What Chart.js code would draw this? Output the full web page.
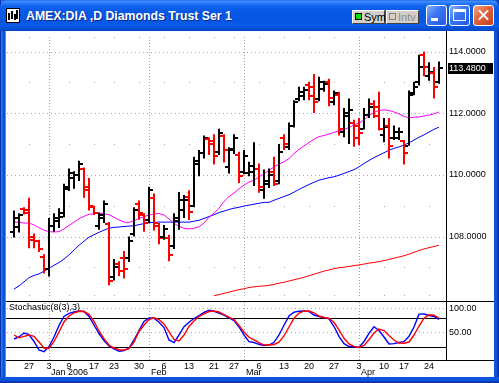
<!DOCTYPE html>
<html>
<head>
<meta charset="utf-8">
<script src="https://cdn.jsdelivr.net/npm/chart.js@4.4.1/dist/chart.umd.min.js"></script>
<style>
html,body{margin:0;padding:0;overflow:hidden;}
body{width:499px;height:383px;position:relative;background:#0553E2;font-family:"Liberation Sans",Arial,sans-serif;}
#edgeL{position:absolute;left:0;top:0;width:5px;height:383px;background:linear-gradient(to right,#0831a6 0,#0831a6 1px,#3a86f7 1px,#1e6cf0 2px,#0b57e2 3px,#0a4fd6 5px);}
#edgeR{position:absolute;left:494px;top:0;width:5px;height:383px;background:linear-gradient(to left,#0831a6 0,#0831a6 1px,#0a4fd6 2px,#0b57e2 5px);}
#edgeB{position:absolute;left:0;top:377px;width:499px;height:6px;background:linear-gradient(to bottom,#0b57e2 0,#0a4fd6 4px,#0831a6 5px);}
#titlebar{position:absolute;left:0;top:0;width:499px;height:31px;border-radius:7px 7px 0 0;
 background:linear-gradient(to bottom,#0a59e8 0px,#4592fc 1px,#2a7cf8 3px,#0f63ec 6px,#0858e6 12px,#0755e3 20px,#085be9 25px,#0a4fd4 29px,#0043c2 31px);}
#icon{position:absolute;left:6px;top:8px;width:12px;height:13px;background:#fff;border:1px solid #000;}
#icon i{position:absolute;width:2px;background:#000;display:block;}
#title{position:absolute;left:26px;top:9px;color:#fff;font-weight:bold;font-size:12.3px;line-height:14px;white-space:nowrap;text-shadow:1px 1px 0 #0a2a8a;}
.tb{position:absolute;top:10px;height:14px;width:33px;background:#D4D0C8;border:1px solid;border-color:#fff #404040 #404040 #fff;box-sizing:border-box;font-size:11px;line-height:12px;}
.tb span{position:absolute;left:2px;top:2px;width:7px;height:7px;box-sizing:border-box;border:1px solid #000;}
.tb b{position:absolute;left:11px;top:0;font-weight:normal;}
.wb{position:absolute;top:5px;width:21px;height:21px;border:1px solid #fff;border-radius:3px;box-sizing:border-box;background:linear-gradient(135deg,#8ab4ff 0%,#3d78f2 40%,#2259e0 100%);}
.wb.cl{background:linear-gradient(135deg,#f4a488 0%,#e0623c 45%,#c4401c 100%);}
.wb.mn::after{content:"";position:absolute;left:4px;top:12px;width:7px;height:3px;background:#fff;}
.wb.mx::after{content:"";position:absolute;left:3px;top:3px;width:13px;height:12px;box-sizing:border-box;border:1px solid #fff;border-top-width:3px;}
.wb.cl::before,.wb.cl::after{content:"";position:absolute;left:3px;top:8px;width:13px;height:2px;background:#fff;}
.wb.cl::before{transform:rotate(45deg);} .wb.cl::after{transform:rotate(-45deg);}
#client{position:absolute;left:6px;top:31px;width:488px;height:346px;background:#fff;}
#lline{position:absolute;left:5px;top:31px;width:1px;height:346px;background:#8a8a8a;}
canvas{position:absolute;left:0;}
#main{top:31px;}
#stoch{top:301px;}
</style>
</head>
<body>
<div id="edgeL"></div><div id="edgeR"></div><div id="edgeB"></div>
<div id="titlebar">
  <div id="icon"><i style="left:1px;top:4px;height:7px"></i><i style="left:4px;top:2px;height:8px"></i><i style="left:7px;top:5px;height:6px"></i><i style="left:9px;top:1px;height:9px"></i></div>
  <div id="title">AMEX:DIA ,D Diamonds Trust Ser 1</div>
  <div class="tb" style="left:352px"><span style="background:#00e000"></span><b>Sym</b></div>
  <div class="tb" style="left:386px"><span style="background:#d4d0c8;border-color:#808080"></span><b style="color:#8c8c8c">Intv</b></div>
  <div class="wb mn" style="left:426px"></div>
  <div class="wb mx" style="left:449px"></div>
  <div class="wb cl" style="left:473px"></div>
</div>
<div id="client"></div>
<div id="lline"></div>
<canvas id="main" width="494" height="270"></canvas>
<canvas id="stoch" width="494" height="76"></canvas>
<script>
// ---------- data ----------
const dates = [
 '2005-12-21','2005-12-22','2005-12-23','2005-12-27','2005-12-28','2005-12-29','2005-12-30',
 '2006-01-03','2006-01-04','2006-01-05','2006-01-06','2006-01-09','2006-01-10','2006-01-11','2006-01-12','2006-01-13',
 '2006-01-17','2006-01-18','2006-01-19','2006-01-20','2006-01-23','2006-01-24','2006-01-25','2006-01-26','2006-01-27','2006-01-30','2006-01-31',
 '2006-02-01','2006-02-02','2006-02-03','2006-02-06','2006-02-07','2006-02-08','2006-02-09','2006-02-10','2006-02-13','2006-02-14','2006-02-15',
 '2006-02-16','2006-02-17','2006-02-21','2006-02-22','2006-02-23','2006-02-24','2006-02-27','2006-02-28',
 '2006-03-01','2006-03-02','2006-03-03','2006-03-06','2006-03-07','2006-03-08','2006-03-09','2006-03-10','2006-03-13','2006-03-14','2006-03-15',
 '2006-03-16','2006-03-17','2006-03-20','2006-03-21','2006-03-22','2006-03-23','2006-03-24','2006-03-27','2006-03-28','2006-03-29','2006-03-30','2006-03-31',
 '2006-04-03','2006-04-04','2006-04-05','2006-04-06','2006-04-07','2006-04-10','2006-04-11','2006-04-12','2006-04-13',
 '2006-04-17','2006-04-18','2006-04-19','2006-04-20','2006-04-21','2006-04-24','2006-04-25','2006-04-26'
];
const openP = [108.15,108.30,108.90,108.85,108.00,107.85,107.35,106.95,108.35,108.50,
 108.75,109.60,109.90,110.00,110.20,109.60,108.95,108.35,108.60,108.40,
 106.70,107.10,107.30,107.30,108.10,109.05,108.70,108.55,109.25,108.35,
 108.00,107.95,107.70,108.50,108.85,109.30,109.00,110.35,110.70,111.15,
 111.10,110.75,111.25,110.25,110.85,110.65,110.10,110.05,110.10,110.20,
 109.50,109.70,110.10,109.80,111.20,110.90,111.60,112.45,112.55,112.90,
 112.85,112.45,112.80,113.00,112.35,112.60,111.40,111.90,111.70,111.60,
 111.50,111.95,112.30,112.20,111.30,111.60,111.20,111.20,111.10,110.95,
 112.65,113.00,113.90,113.20,113.30,113.00];
const highP = [108.85,108.76,108.95,109.26,108.10,107.90,107.43,108.60,108.76,108.92,
 109.71,110.21,110.12,110.46,110.24,109.90,109.00,108.78,109.17,108.47,
 107.27,107.20,107.53,108.00,108.95,109.17,108.76,109.62,109.40,108.44,
 108.38,108.06,108.76,109.45,109.35,109.50,110.59,110.81,111.28,111.22,
 111.32,111.50,111.32,110.90,111.32,110.75,110.81,110.43,111.06,110.37,
 110.18,110.21,110.59,111.00,111.32,111.70,112.42,112.86,112.86,113.02,
 113.27,113.18,113.05,113.12,112.74,112.70,112.17,112.48,111.79,111.85,
 112.17,112.48,112.42,112.70,111.85,111.85,111.60,111.54,111.13,112.74,
 113.02,113.90,114.00,113.65,113.50,113.68];
const lowP = [107.97,108.13,108.72,107.62,107.62,107.50,106.80,106.71,108.16,108.28,
 108.63,109.48,109.55,109.80,109.26,108.85,108.70,108.22,108.44,106.42,
 106.58,106.72,106.64,107.18,108.00,108.55,108.16,108.44,108.20,107.75,
 107.90,107.20,107.60,108.22,108.60,108.54,108.95,109.96,110.53,110.65,
 110.34,110.65,110.40,110.05,110.68,109.74,110.02,109.96,109.64,109.42,
 109.23,109.58,109.64,109.70,110.81,110.81,111.54,112.39,112.42,112.42,
 112.01,112.39,112.70,112.23,112.26,111.28,111.22,111.00,110.91,110.97,
 111.47,111.85,111.85,111.44,111.06,110.53,111.13,111.13,110.34,110.95,
 112.58,112.90,113.20,113.05,112.48,112.96];
const closeP = [108.60,108.70,108.78,107.90,107.85,107.60,106.95,108.35,108.60,108.65,
 109.55,110.05,110.00,110.35,109.50,109.00,108.75,108.70,109.05,106.55,
 107.00,106.90,106.95,107.85,108.85,108.75,108.45,109.50,108.45,107.95,
 108.25,107.40,108.60,109.20,109.20,108.80,110.45,110.70,111.20,111.00,
 110.60,111.35,110.80,110.80,111.20,109.95,110.60,110.30,110.20,109.60,
 109.80,110.00,109.70,110.75,111.00,111.60,112.35,112.70,112.75,112.55,
 112.35,113.00,112.95,112.50,112.65,111.50,112.00,112.10,111.20,111.35,
 111.95,112.20,111.90,111.50,111.55,110.95,111.40,111.40,110.70,112.60,
 112.85,113.50,113.50,113.35,112.85,113.48];
const maFast = [108.47,108.46,108.44,108.44,108.38,108.29,108.21,108.16,108.15,108.16,
 108.25,108.36,108.47,108.58,108.66,108.72,108.74,108.76,108.74,108.71,
 108.63,108.54,108.47,108.46,108.52,108.59,108.65,108.70,108.73,108.75,
 108.70,108.57,108.43,108.33,108.27,108.25,108.27,108.32,108.44,108.63,
 108.76,108.92,109.14,109.30,109.41,109.55,109.67,109.77,109.83,109.93,
 110.04,110.15,110.26,110.35,110.43,110.53,110.69,110.83,110.94,111.05,
 111.16,111.24,111.28,111.33,111.38,111.43,111.47,111.54,111.63,111.68,
 111.79,111.92,112.03,112.09,112.11,112.09,112.04,111.98,111.90,111.85,
 111.87,111.88,111.91,111.94,111.98,112.04];
const maMid = [106.30,106.40,106.53,106.67,106.74,106.79,106.88,106.97,107.07,107.16,
 107.27,107.41,107.56,107.72,107.85,107.98,108.06,108.14,108.21,108.27,
 108.30,108.31,108.33,108.34,108.35,108.39,108.42,108.45,108.46,108.47,
 108.47,108.47,108.47,108.47,108.47,108.47,108.50,108.53,108.59,108.65,
 108.71,108.78,108.83,108.88,108.92,108.95,108.99,109.02,109.05,109.08,
 109.11,109.11,109.18,109.24,109.30,109.36,109.44,109.53,109.61,109.69,
 109.76,109.83,109.87,109.91,109.94,109.99,110.05,110.11,110.17,110.26,
 110.37,110.47,110.56,110.64,110.72,110.80,110.86,110.91,110.97,111.04,
 111.13,111.22,111.30,111.39,111.48,111.55];
const maSlow = [null,null,null,null,null,null,null,null,null,null,
 null,null,null,null,null,null,null,null,null,null,
 null,null,null,null,null,null,null,null,null,null,
 null,null,null,null,null,null,null,null,null,null,
 106.08,106.12,106.16,106.20,106.24,106.28,106.31,106.35,106.37,106.39,
 106.40,106.42,106.45,106.49,106.52,106.56,106.60,106.64,106.68,106.73,
 106.78,106.83,106.88,106.92,106.96,106.99,107.01,107.03,107.06,107.08,
 107.11,107.14,107.16,107.19,107.22,107.26,107.30,107.34,107.38,107.43,
 107.49,107.55,107.60,107.64,107.68,107.72];
const stochK = [36.6,40.7,49.0,45.9,31.4,13.8,10.3,21.0,40.7,64.5,
 83.1,89.7,92.4,94.5,93.4,83.1,65.5,47.9,33.4,22.1,
 15.9,11.3,12.8,17.9,34.5,54.1,72.8,80.0,79.6,71.1,
 60.3,34.5,29.3,44.8,62.0,71.1,79.0,85.2,91.8,95.9,
 93.9,90.3,85.8,80.4,74.8,61.4,44.8,31.0,29.3,25.6,
 23.1,24.1,29.7,44.8,64.9,84.1,92.0,94.1,94.5,93.4,
 86.2,83.1,81.0,78.3,62.4,42.1,26.8,21.0,20.6,19.0,
 31.4,48.3,61.8,54.1,40.7,26.2,27.0,29.3,31.0,42.1,
 61.4,88.0,88.3,85.2,83.1,76.9];
const stochD = [44.8,39.0,42.1,44.8,42.1,30.3,17.9,16.9,31.4,51.0,
 71.7,84.1,90.3,93.9,93.4,87.7,72.8,53.1,37.2,24.1,
 17.9,14.4,13.8,16.5,30.3,52.1,65.5,76.9,80.4,76.9,
 67.6,51.7,35.5,32.4,44.8,62.4,73.8,83.1,88.7,93.4,
 94.5,92.4,87.2,81.7,76.9,64.5,51.0,40.1,34.5,28.9,
 24.1,24.1,25.2,29.9,42.8,61.4,79.4,90.3,94.1,94.5,
 90.8,84.1,81.0,79.6,71.1,55.2,38.0,26.2,21.4,19.0,
 23.1,35.1,49.0,57.2,54.1,43.8,34.5,28.3,27.7,30.3,
 44.8,63.4,79.4,86.6,85.8,80.0];
const priceMajorTicks = [108, 110, 112, 114];
const priceMinorTicks = [107, 109, 111, 113];
const stochTicks = [50, 100];
const stochBands = [20, 80];
const stochParams = [8, 3, 3];
const monthNames = ['Jan','Feb','Mar','Apr','May','Jun','Jul','Aug','Sep','Oct','Nov','Dec'];

// ---------- derived ----------
const FONT = '"Liberation Sans", Arial, sans-serif';
const GRID = '#A4A4A4';
const UP = '#000000', DOWN = '#FF0000';
const dObjs = dates.map(s => new Date(s + 'T00:00:00Z'));
const weekIdx = [], monthIdx = [];
dObjs.forEach((d, i) => {
  if (i === 0) return;
  const p = dObjs[i - 1];
  if (d.getUTCDay() < p.getUTCDay() || (d - p) >= 7 * 86400000) weekIdx.push(i);
  if (d.getUTCMonth() !== p.getUTCMonth()) monthIdx.push(i);
});
const dayLabel = i => String(dObjs[i].getUTCDate());
const monthLabel = i => { const m = dObjs[i].getUTCMonth(); return m === 0 ? monthNames[m] + ' ' + dObjs[i].getUTCFullYear() : monthNames[m]; };
const idx = dates.map((_, i) => i);
const barColors = idx.map(i => closeP[i] >= openP[i] ? UP : DOWN);
function tickImg(color, side) {
  const c = document.createElement('canvas'); c.width = 8; c.height = 2;
  const g = c.getContext('2d'); g.fillStyle = color;
  g.fillRect(side < 0 ? 0 : 5, 0, 3, 2);
  return c;
}
const openStyles = barColors.map(c => tickImg(c, -1));
const closeStyles = barColors.map(c => tickImg(c, 1));

const X_MIN = -1.6, X_MAX = 86.4;
Chart.defaults.font.family = FONT;

function dotsH(ctx, x0, x1, Y, step) { for (let X = x0; X < x1; X += step) ctx.fillRect(X, Y, 1, 1); }
function dotsV(ctx, X, y0, y1, step) { for (let Y = y0; Y < y1; Y += step) ctx.fillRect(X, Y, 1, 1); }

const mainDeco = {
  id: 'mainDeco',
  beforeDatasetsDraw(chart) {
    const {ctx, chartArea: a, scales: {x, y}} = chart;
    const L = Math.round(a.left), R = Math.round(a.right), T = Math.round(a.top), B = Math.round(a.bottom);
    ctx.save(); ctx.fillStyle = GRID;
    priceMajorTicks.forEach(v => dotsH(ctx, L + 1, R, Math.round(y.getPixelForValue(v)), 4));
    monthIdx.forEach(i => dotsV(ctx, Math.round(x.getPixelForValue(i)), T + 1, B, 3));
    const rows = priceMinorTicks.map(v => Math.round(y.getPixelForValue(v))).concat([T + 1, B - 1]);
    weekIdx.forEach(i => { const X = Math.round(x.getPixelForValue(i)); rows.forEach(Y => ctx.fillRect(X, Y, 1, 1)); });
    ctx.restore();
  },
  afterDraw(chart) {
    const {ctx, chartArea: a, scales: {y}} = chart;
    const R = Math.round(a.right);
    ctx.save();
    ctx.fillStyle = '#000';
    ctx.fillRect(R, 0, 1, chart.height);
    const v = closeP[closeP.length - 1];
    const Y = Math.round(y.getPixelForValue(v));
    ctx.fillRect(R + 2, Y - 5, 45, 11);
    ctx.fillStyle = '#fff'; ctx.font = '9px ' + FONT; ctx.textBaseline = 'middle'; ctx.textAlign = 'left';
    ctx.fillText(v.toFixed(4), R + 3, Y + 0.5);
    ctx.restore();
  }
};

const stochDeco = {
  id: 'stochDeco',
  beforeDatasetsDraw(chart) {
    const {ctx, chartArea: a, scales: {x, y}} = chart;
    const L = Math.round(a.left), R = Math.round(a.right), T = Math.round(a.top), B = Math.round(a.bottom);
    ctx.save(); ctx.fillStyle = GRID;
    stochTicks.forEach(v => dotsH(ctx, L + 1, R, Math.round(y.getPixelForValue(v)), 4));
    monthIdx.forEach(i => dotsV(ctx, Math.round(x.getPixelForValue(i)), T + 1, B, 3));
    ctx.fillStyle = '#000';
    stochBands.forEach(v => ctx.fillRect(L, Math.round(y.getPixelForValue(v)), R - L, 1));
    ctx.font = '9px ' + FONT; ctx.textBaseline = 'middle'; ctx.textAlign = 'left';
    ctx.fillText('Stochastic(' + stochParams[0] + '(' + stochParams[1] + '),' + stochParams[2] + ')', L + 3, T + 7);
    ctx.restore();
  },
  afterDraw(chart) {
    const {ctx, chartArea: a, scales: {x}} = chart;
    const L = Math.round(a.left), R = Math.round(a.right), T = Math.round(a.top), B = Math.round(a.bottom);
    ctx.save();
    ctx.fillStyle = '#000';
    ctx.fillRect(L, T, chart.width - L, 1);
    ctx.fillRect(L, B, chart.width - L, 1);
    ctx.fillRect(R, T, 1, B - T + 1);
    ctx.font = '9px ' + FONT; ctx.textBaseline = 'middle'; ctx.textAlign = 'left';
    monthIdx.forEach(i => ctx.fillText(monthLabel(i), Math.round(x.getPixelForValue(i)) + 2, B + 12.5));
    ctx.restore();
  }
};

const fitY = s => { s.width = 48; s.paddingTop = 0; s.paddingBottom = 0; };
const tickFont = {family: FONT, size: 9};

new Chart(document.getElementById('main'), {
  type: 'line',
  data: {
    datasets: [
      {type: 'bar', label: 'DIA range', data: idx.map(i => ({x: i, y: [lowP[i], highP[i]]})),
       backgroundColor: barColors, borderWidth: 0, barThickness: 2, inflateAmount: 0, order: 0},
      {label: 'Open', data: idx.map(i => ({x: i, y: openP[i]})), showLine: false,
       pointStyle: openStyles, pointRadius: 2, order: 0},
      {label: 'Close', data: idx.map(i => ({x: i, y: closeP[i]})), showLine: false,
       pointStyle: closeStyles, pointRadius: 2, order: 0},
      {label: 'MA fast', data: idx.map(i => ({x: i, y: maFast[i]})), borderColor: '#FF00FF', borderWidth: 1, pointRadius: 0, tension: 0, order: 1},
      {label: 'MA mid', data: idx.map(i => ({x: i, y: maMid[i]})), borderColor: '#0000FF', borderWidth: 1, pointRadius: 0, tension: 0, order: 1},
      {label: 'MA slow', data: idx.map(i => ({x: i, y: maSlow[i]})), borderColor: '#FF0000', borderWidth: 1, pointRadius: 0, tension: 0, order: 1}
    ]
  },
  options: {
    responsive: false, animation: false, devicePixelRatio: 1, events: [],
    layout: {padding: {left: 6, top: 0, right: 0, bottom: 3}},
    plugins: {legend: {display: false}, tooltip: {enabled: false}},
    scales: {
      x: {type: 'linear', min: X_MIN, max: X_MAX, offset: false, bounds: 'data', display: false},
      y: {type: 'linear', position: 'right', min: 106.074, max: 114.505, bounds: 'data',
          afterBuildTicks: s => { s.ticks = priceMajorTicks.map(v => ({value: v})); },
          afterFit: fitY,
          grid: {display: false, drawTicks: false}, border: {display: false},
          ticks: {padding: 3, color: '#000', font: tickFont, callback: v => Number(v).toFixed(4)}}
    }
  },
  plugins: [mainDeco]
});

new Chart(document.getElementById('stoch'), {
  type: 'line',
  data: {
    datasets: [
      {label: '%D', data: idx.map(i => ({x: i, y: stochD[i]})), borderColor: '#FF0000', borderWidth: 1.4, pointRadius: 0, tension: 0, order: 0},
      {label: '%K', data: idx.map(i => ({x: i, y: stochK[i]})), borderColor: '#0000FF', borderWidth: 1.4, pointRadius: 0, tension: 0, order: 1}
    ]
  },
  options: {
    responsive: false, animation: false, devicePixelRatio: 1, events: [],
    layout: {padding: {left: 6, top: 0, right: 0, bottom: 0}},
    plugins: {legend: {display: false}, tooltip: {enabled: false}},
    scales: {
      x: {type: 'linear', min: X_MIN, max: X_MAX, offset: false, bounds: 'data',
          afterBuildTicks: s => { s.ticks = weekIdx.map(v => ({value: v})); },
          afterFit: s => { s.height = 17; s.paddingLeft = 0; s.paddingRight = 0; },
          grid: {display: false, drawTicks: false}, border: {display: false},
          ticks: {padding: 1, color: '#000', font: tickFont, autoSkip: false, maxRotation: 0,
                  callback: v => dayLabel(Math.round(v))}},
      y: {type: 'linear', position: 'right', min: -6.9, max: 115.17, bounds: 'data',
          afterBuildTicks: s => { s.ticks = stochTicks.map(v => ({value: v})); },
          afterFit: fitY,
          grid: {display: false, drawTicks: false}, border: {display: false},
          ticks: {padding: 3, color: '#000', font: tickFont, callback: v => Number(v).toFixed(2)}}
    }
  },
  plugins: [stochDeco]
});
</script>
</body>
</html>
